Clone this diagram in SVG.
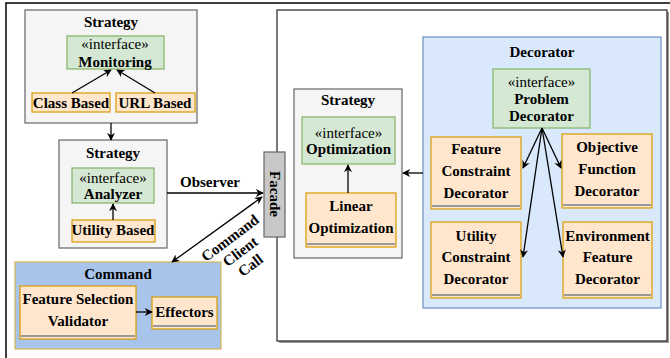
<svg xmlns="http://www.w3.org/2000/svg" width="670" height="358" viewBox="0 0 670 358">
<defs>
<marker id="arr" viewBox="0 0 10 10" refX="9" refY="5" markerWidth="8" markerHeight="8" orient="auto-start-reverse" markerUnits="userSpaceOnUse">
<path d="M0,0 L10,5 L0,10 L3,5 z" fill="#000"/>
</marker>
<style>
text{font-family:"Liberation Serif","Times New Roman",serif;font-size:15px;fill:#000;text-anchor:middle}
.b{font-weight:bold}
.grp{fill:#f5f5f5;stroke:#666;stroke-width:1.2}
.ifc{fill:#d5e8d4;stroke:#82b366;stroke-width:1.2}
.cls{fill:#ffe6cc;stroke:#d79b00;stroke-width:1.2}
.shd{stroke:#999;stroke-width:2}
.edge{stroke:#000;stroke-width:1.3;fill:none}
</style>
</defs>
<rect x="6" y="3" width="700" height="400" fill="#fff" stroke="#000" stroke-width="1.5"/>
<rect x="279" y="12" width="390" height="331" fill="#999" stroke="none"/>
<rect x="277" y="10" width="390" height="331" fill="#fff" stroke="#333" stroke-width="1.3"/>

<g id="strategy-monitoring">
<rect class="grp" x="25" y="10" width="172" height="113"/>
<text class="b" x="111" y="27">Strategy</text>
</g>
<g id="monitoring">
<rect class="ifc" x="67" y="36" width="97" height="33"/>
<text x="115" y="49">«interface»</text>
<text class="b" x="115" y="67">Monitoring</text>
</g>
<g id="class-based">
<rect class="cls" x="32" y="93" width="78" height="19"/>
<text class="b" x="71" y="108">Class Based</text>
</g>
<g id="url-based">
<rect class="cls" x="116" y="93" width="79" height="19"/>
<text class="b" x="155" y="108">URL Based</text>
</g>

<g id="strategy-analyzer">
<rect class="grp" x="59" y="140" width="108" height="108"/>
<text class="b" x="113" y="158">Strategy</text>
</g>
<g id="analyzer">
<rect class="ifc" x="72" y="168" width="82" height="35"/>
<text x="113" y="183">«interface»</text>
<text class="b" x="113" y="199">Analyzer</text>
</g>
<g id="utility-based">
<rect class="cls" x="72" y="220" width="83" height="22"/>
<text class="b" x="113" y="235">Utility Based</text>
</g>

<g id="command">
<rect x="15" y="262" width="206" height="87" fill="#a9c4eb" stroke="#d6b656" stroke-width="1.2"/>
<text class="b" x="118" y="279">Command</text>
</g>
<g id="feature-selection-validator">
<rect class="cls" x="20" y="286" width="116" height="53"/>
<line class="shd" x1="21" y1="336" x2="135" y2="336"/>
<text class="b" x="78" y="304">Feature Selection</text>
<text class="b" x="78" y="326">Validator</text>
</g>
<g id="effectors">
<rect class="cls" x="152" y="297" width="65" height="32"/>
<line class="shd" x1="153" y1="326" x2="216" y2="326"/>
<text class="b" x="184.5" y="317">Effectors</text>
</g>

<g id="strategy-optimization">
<rect class="grp" x="294" y="89" width="108" height="169"/>
<text class="b" x="348" y="105">Strategy</text>
</g>
<g id="optimization">
<rect class="ifc" x="302" y="117" width="93" height="47"/>
<text x="348.5" y="138">«interface»</text>
<text class="b" x="348.5" y="154">Optimization</text>
</g>
<g id="linear-optimization">
<rect class="cls" x="306" y="193" width="90" height="54"/>
<line class="shd" x1="307" y1="244" x2="395" y2="244"/>
<text class="b" x="351" y="211">Linear</text>
<text class="b" x="351" y="233">Optimization</text>
</g>

<g id="decorator">
<rect x="423" y="37" width="238" height="271" fill="#dae8fc" stroke="#6c8ebf" stroke-width="1.2"/>
<text class="b" x="542" y="57">Decorator</text>
</g>
<g id="problem-decorator">
<rect class="ifc" x="493" y="69" width="97" height="59"/>
<text x="541.5" y="87">«interface»</text>
<text class="b" x="541.5" y="104">Problem</text>
<text class="b" x="541.5" y="121">Decorator</text>
</g>
<g id="feature-constraint-decorator">
<rect class="cls" x="431" y="137" width="90" height="72"/>
<line class="shd" x1="432" y1="206" x2="520" y2="206"/>
<text class="b" x="476" y="154">Feature</text>
<text class="b" x="476" y="176">Constraint</text>
<text class="b" x="476" y="198">Decorator</text>
</g>
<g id="objective-function-decorator">
<rect class="cls" x="562" y="134" width="90" height="74"/>
<line class="shd" x1="563" y1="205" x2="651" y2="205"/>
<text class="b" x="607" y="152">Objective</text>
<text class="b" x="607" y="174">Function</text>
<text class="b" x="607" y="196">Decorator</text>
</g>
<g id="utility-constraint-decorator">
<rect class="cls" x="431" y="222" width="90" height="76"/>
<line class="shd" x1="432" y1="295" x2="520" y2="295"/>
<text class="b" x="476" y="241">Utility</text>
<text class="b" x="476" y="262">Constraint</text>
<text class="b" x="476" y="284">Decorator</text>
</g>
<g id="environment-feature-decorator">
<rect class="cls" x="563" y="222" width="89" height="76"/>
<line class="shd" x1="564" y1="295" x2="651" y2="295"/>
<text class="b" x="607.5" y="241">Environment</text>
<text class="b" x="607.5" y="262">Feature</text>
<text class="b" x="607.5" y="284">Decorator</text>
</g>

<g id="facade">
<rect x="264" y="152" width="21" height="85" fill="#c8c8c8" stroke="#666" stroke-width="1.2"/>
<text class="b" transform="translate(274.5,194) rotate(90)" x="0" y="5">Facade</text>
</g>

<g id="connectors">
<line class="edge" x1="72" y1="93" x2="111" y2="70" marker-end="url(#arr)"/>
<line class="edge" x1="155" y1="93" x2="117" y2="70" marker-end="url(#arr)"/>
<line class="edge" x1="111" y1="123" x2="111" y2="140" marker-end="url(#arr)"/>
<line class="edge" x1="113" y1="220" x2="113" y2="204" marker-end="url(#arr)"/>
<line class="edge" x1="167" y1="193" x2="263" y2="193" marker-end="url(#arr)"/>
<line class="edge" x1="262" y1="197" x2="172" y2="262" marker-start="url(#arr)" marker-end="url(#arr)"/>
<line class="edge" x1="136" y1="312" x2="152" y2="312" marker-end="url(#arr)"/>
<line class="edge" x1="348" y1="193" x2="348" y2="165" marker-end="url(#arr)"/>
<line class="edge" x1="423" y1="173" x2="403" y2="173" marker-end="url(#arr)"/>
<line class="edge" x1="542" y1="128" x2="523" y2="168" marker-end="url(#arr)"/>
<line class="edge" x1="542" y1="128" x2="561" y2="168" marker-end="url(#arr)"/>
<line class="edge" x1="542" y1="128" x2="523" y2="257" marker-end="url(#arr)"/>
<line class="edge" x1="542" y1="128" x2="563" y2="257" marker-end="url(#arr)"/>
<text class="b" x="210" y="187">Observer</text>
<g transform="translate(230,238) rotate(-37)">
<text class="b" x="0" y="5">Command</text>
<text class="b" x="0" y="22">Client</text>
<text class="b" x="0" y="39">Call</text>
</g>
</g>
</svg>
